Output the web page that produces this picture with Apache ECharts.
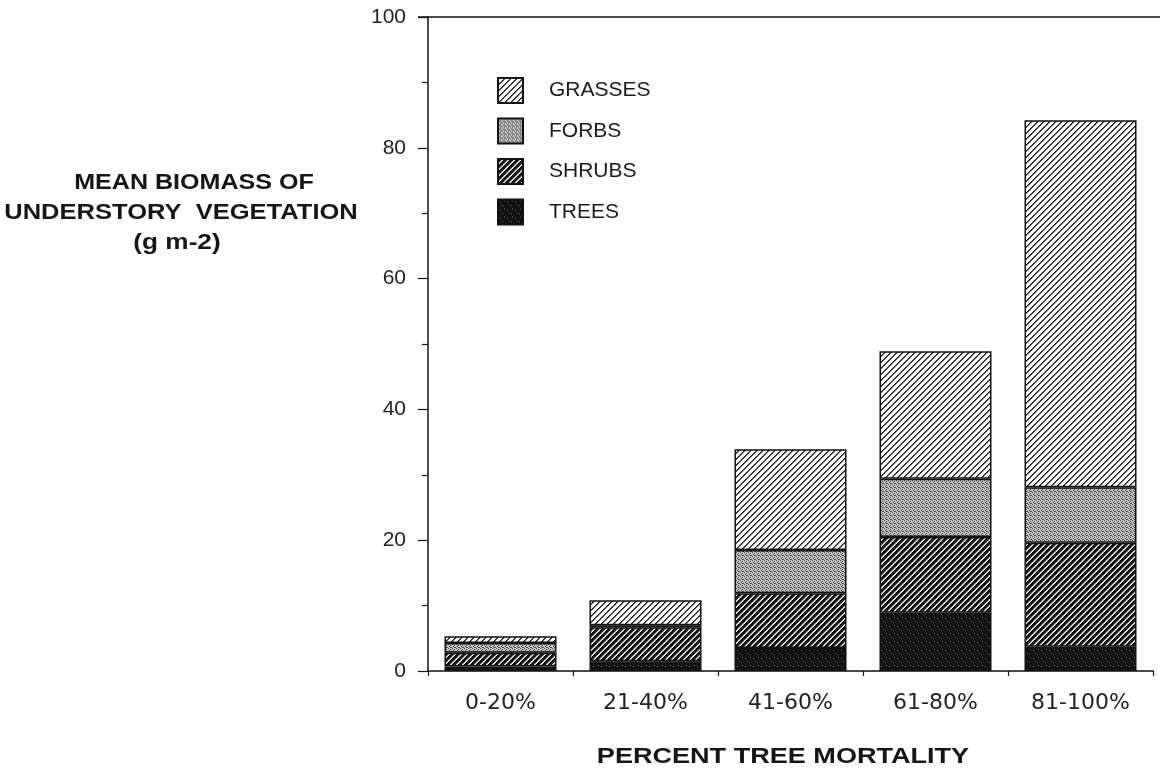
<!DOCTYPE html>
<html>
<head>
<meta charset="utf-8">
<script src="https://cdn.jsdelivr.net/npm/echarts@6/dist/echarts.min.js"></script>
<style>
  html, body { margin: 0; padding: 0; background: #fff; }
  #main { width: 1160px; height: 769px; }
</style>
</head>
<body>
<div id="main"></div>
<script>
// mean biomass (g m-2) per layer, bottom to top of each stack
let categories = ['0-20%', '21-40%', '41-60%', '61-80%', '81-100%'];
let trees = [0.7, 1.5, 3.5, 8.9, 3.7];
let shrubs = [2.1, 5.2, 8.4, 11.6, 15.9];
let forbs = [1.5, 0.3, 6.6, 8.9, 8.5];
let grasses = [1.0, 3.8, 15.4, 19.5, 56.1];
let yTicks = [0, 20, 40, 60, 80, 100];

let font = 'Liberation Sans, Arial, sans-serif';

// crisp "///" stripes, one colour per diagonal step
function hatch(steps) {
  let s = steps.length;
  let c = document.createElement('canvas');
  c.width = s; c.height = s;
  let ctx = c.getContext('2d');
  for (let x = 0; x < s; x++) {
    for (let y = 0; y < s; y++) {
      ctx.fillStyle = steps[(x + y) % s];
      ctx.fillRect(x, y, 1, 1);
    }
  }
  return c;
}

// dotted fill tile
function stipple(size, bg, fg, dots) {
  let c = document.createElement('canvas');
  c.width = size; c.height = size;
  let ctx = c.getContext('2d');
  ctx.fillStyle = bg;
  ctx.fillRect(0, 0, size, size);
  ctx.fillStyle = fg;
  dots.forEach(function (d) { ctx.fillRect(d[0], d[1], 1, 1); });
  return c;
}

let grassFill = hatch(['#1e1e1e', '#5a5a5a', '#ffffff', '#ffffff', '#ffffff', '#ffffff']);
let shrubFill = hatch(['#111111', '#111111', '#151515', '#333333', '#bbbbbb', '#e8e8e8']);
let forbFill = stipple(4, '#c2c2c2', '#4a4a4a', [[0, 0], [2, 1], [1, 2], [3, 3], [2, 3]]);
let treeFill = stipple(8, '#121212', '#5a5a5a', [[1, 2], [5, 6], [6, 1], [3, 5]]);

function layer(name, data, img) {
  return {
    name: name,
    type: 'bar',
    stack: 'total',
    data: data,
    barWidth: 112,
    itemStyle: {
      color: { image: img, repeat: 'repeat' },
      borderColor: '#111',
      borderWidth: 1.5
    },
    emphasis: { disabled: true }
  };
}

let mychart = echarts.init(document.getElementById('main'));

let titleStyle = { font: 'bold 22px ' + font, fill: '#151515', textAlign: 'center', textVerticalAlign: 'middle' };

let option = {
  animation: false,
  backgroundColor: '#fff',
  grid: { left: 428, right: 7, top: 17, bottom: 98 },
  legend: {
    data: ['GRASSES', 'FORBS', 'SHRUBS', 'TREES'],
    orient: 'vertical',
    left: 492,
    top: 72,
    icon: 'rect',
    itemWidth: 25,
    itemHeight: 25,
    itemGap: 13.5,
    selectedMode: false,
    textStyle: {
      fontFamily: font,
      fontSize: 21,
      lineHeight: 25,
      color: '#1a1a1a',
      padding: [0, 0, 0, 21]
    }
  },
  xAxis: {
    type: 'category',
    data: categories,
    axisLine: { lineStyle: { color: '#111', width: 1.5 } },
    axisTick: { show: true, length: 5, lineStyle: { color: '#111', width: 1.2 } },
    axisLabel: { fontFamily: 'DejaVu Sans, sans-serif', fontSize: 22, color: '#222', margin: 21 }
  },
  yAxis: {
    type: 'value',
    min: yTicks[0],
    max: yTicks[yTicks.length - 1],
    interval: yTicks[1] - yTicks[0],
    axisLine: { show: true, lineStyle: { color: '#111', width: 1.5 } },
    axisTick: { show: true, length: 10, lineStyle: { color: '#111', width: 1.2 } },
    minorTick: { show: true, splitNumber: 2, length: 6, lineStyle: { color: '#111', width: 1.2 } },
    splitLine: { show: false },
    axisLabel: { fontFamily: font, fontSize: 21, color: '#222', margin: 22 }
  },
  graphic: [
    {
      type: 'line',
      shape: { x1: 418, y1: 17, x2: 1160, y2: 17 },
      style: { stroke: '#111', lineWidth: 1.5 }
    },
    { type: 'text', x: 194, y: 183, scaleX: 1.14, style: Object.assign({ text: 'MEAN BIOMASS OF' }, titleStyle) },
    { type: 'text', x: 181, y: 213, scaleX: 1.16, style: Object.assign({ text: 'UNDERSTORY  VEGETATION' }, titleStyle) },
    { type: 'text', x: 177, y: 243, scaleX: 1.19, style: Object.assign({ text: '(g m-2)' }, titleStyle) },
    { type: 'text', x: 783, y: 757, scaleX: 1.23, style: Object.assign({ text: 'PERCENT TREE MORTALITY' }, titleStyle) }
  ],
  series: [
    layer('TREES', trees, treeFill),
    layer('SHRUBS', shrubs, shrubFill),
    layer('FORBS', forbs, forbFill),
    layer('GRASSES', grasses, grassFill)
  ]
};

mychart.setOption(option);
</script>
</body>
</html>
